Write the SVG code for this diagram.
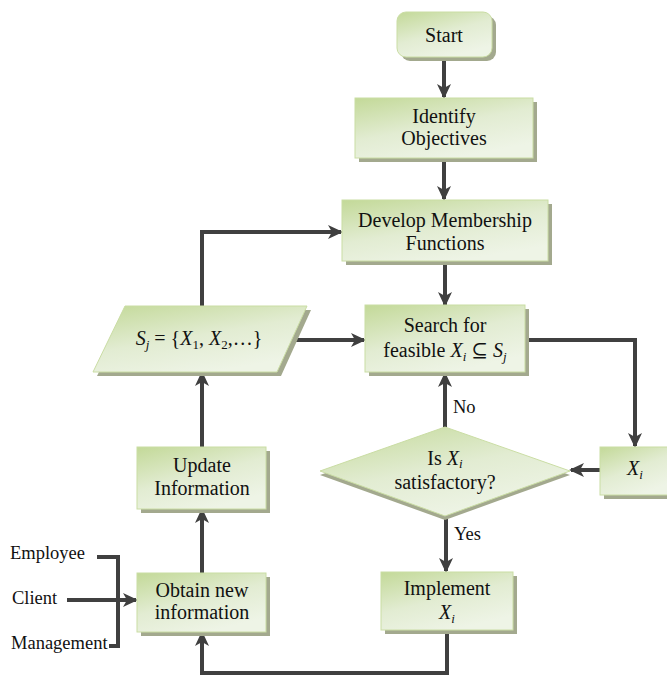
<svg xmlns="http://www.w3.org/2000/svg" width="667" height="679" viewBox="0 0 667 679">
<defs>
<linearGradient id="g" x1="0" y1="0" x2="0.55" y2="1">
<stop offset="0" stop-color="#c3d998"/>
<stop offset="0.55" stop-color="#e2ecd2"/>
<stop offset="1" stop-color="#eef4e6"/>
</linearGradient>
<marker id="ah" markerUnits="userSpaceOnUse" markerWidth="16" markerHeight="16" refX="13" refY="8" orient="auto">
<path d="M0,1 L15,8 L0,15 L4,8 z" fill="#3f3f3f"/>
</marker>
<style>
.sh{fill:#a3a98e}
.bx{fill:url(#g);stroke:#cadda4;stroke-width:1}
text{font-family:'Liberation Serif','DejaVu Serif',serif;fill:#111}
.t{font-size:20px;text-anchor:middle}
.l{font-size:18.5px}
.i{font-style:italic}
.s{font-size:13px}
.c{fill:none;stroke:#404040;stroke-width:4}
</style>
</defs>
<rect width="667" height="679" fill="#fff"/>
<g id="connectors">
<path class="c" d="M444,57 L444,97" marker-end="url(#ah)"/>
<path class="c" d="M444,158 L444,199" marker-end="url(#ah)"/>
<path class="c" d="M445,261 L445,305" marker-end="url(#ah)"/>
<path class="c" d="M202,306 L202,232 L341,232" marker-end="url(#ah)"/>
<path class="c" d="M292,340 L364,340" marker-end="url(#ah)"/>
<path class="c" d="M525,340 L635,340 L635,446" marker-end="url(#ah)"/>
<path class="c" d="M600,470 L571,470" marker-end="url(#ah)"/>
<path class="c" d="M445,427 L445,374" marker-end="url(#ah)"/>
<path class="c" d="M446,517 L446,571" marker-end="url(#ah)"/>
<path class="c" d="M447,631 L447,673 L202,673 L202,633" marker-end="url(#ah)"/>
<path class="c" d="M202,573 L202,510" marker-end="url(#ah)"/>
<path class="c" d="M202,447 L202,373" marker-end="url(#ah)"/>
<path class="c" d="M67,600 L136,600" marker-end="url(#ah)"/>
<path class="c" d="M97,557 L118,557 L118,646 L109,646"/>
<text class="l" x="453" y="413" font-family="Liberation Serif, DejaVu Serif, serif">No</text>
<text class="l" x="454" y="540" font-family="Liberation Serif, DejaVu Serif, serif">Yes</text>
</g>
<g id="start">
<rect class="sh" x="401" y="16" width="95" height="45" rx="9"/>
<rect class="bx" x="397" y="12" width="95" height="45" rx="9"/>
<text class="t" x="444" y="42" font-family="Liberation Serif, DejaVu Serif, serif">Start</text>
</g>
<g id="identify">
<rect class="sh" x="359" y="102" width="178" height="60"/>
<rect class="bx" x="355" y="98" width="178" height="60"/>
<text class="t" x="444" y="123" font-family="Liberation Serif, DejaVu Serif, serif">Identify</text>
<text class="t" x="444" y="145" font-family="Liberation Serif, DejaVu Serif, serif">Objectives</text>
</g>
<g id="develop">
<rect class="sh" x="346" y="204" width="206" height="61"/>
<rect class="bx" x="342" y="200" width="206" height="61"/>
<text class="t" x="445" y="227" font-family="Liberation Serif, DejaVu Serif, serif">Develop Membership</text>
<text class="t" x="445" y="250" font-family="Liberation Serif, DejaVu Serif, serif">Functions</text>
</g>
<g id="sset">
<polygon class="sh" points="129,310 311,310 281,376 97,376"/>
<polygon class="bx" points="125,306 307,306 277,372 93,372"/>
<text class="t" x="199" y="345" font-family="Liberation Serif, DejaVu Serif, serif"><tspan class="i">S</tspan><tspan class="i s" dy="4">j</tspan><tspan dy="-4"> = {</tspan><tspan class="i">X</tspan><tspan class="s" dy="4">1</tspan><tspan dy="-4">, </tspan><tspan class="i">X</tspan><tspan class="s" dy="4">2</tspan><tspan dy="-4">,…}</tspan></text>
</g>
<g id="search">
<rect class="sh" x="369" y="309" width="160" height="67"/>
<rect class="bx" x="365" y="305" width="160" height="67"/>
<text class="t" x="445" y="332" font-family="Liberation Serif, DejaVu Serif, serif">Search for</text>
<text class="t" x="445" y="357" font-family="Liberation Serif, DejaVu Serif, serif">feasible <tspan class="i">X</tspan><tspan class="i s" dy="4">i</tspan><tspan dy="-4"> ⊆ </tspan><tspan class="i">S</tspan><tspan class="i s" dy="4">j</tspan></text>
</g>
<g id="xi">
<rect class="sh" x="604" y="451" width="70" height="48"/>
<rect class="bx" x="600" y="447" width="70" height="48"/>
<text class="t" x="635" y="475" font-family="Liberation Serif, DejaVu Serif, serif"><tspan class="i">X</tspan><tspan class="i s" dy="4">i</tspan></text>
</g>
<g id="decision">
<polygon class="sh" points="445,431 570,475 445,520 320,475"/>
<polygon class="bx" points="445,427 570,471 445,516 320,471"/>
<text class="t" x="445" y="465" font-family="Liberation Serif, DejaVu Serif, serif">Is <tspan class="i">X</tspan><tspan class="i s" dy="3">i</tspan></text>
<text class="t" x="445" y="489" font-family="Liberation Serif, DejaVu Serif, serif">satisfactory?</text>
</g>
<g id="implement">
<rect class="sh" x="385" y="576" width="132" height="58"/>
<rect class="bx" x="381" y="572" width="132" height="58"/>
<text class="t" x="447" y="595" font-family="Liberation Serif, DejaVu Serif, serif">Implement</text>
<text class="t" x="447" y="619" font-family="Liberation Serif, DejaVu Serif, serif"><tspan class="i">X</tspan><tspan class="i s" dy="4">i</tspan></text>
</g>
<g id="update">
<rect class="sh" x="141" y="451" width="129" height="62"/>
<rect class="bx" x="137" y="447" width="129" height="62"/>
<text class="t" x="202" y="472" font-family="Liberation Serif, DejaVu Serif, serif">Update</text>
<text class="t" x="202" y="495" font-family="Liberation Serif, DejaVu Serif, serif">Information</text>
</g>
<g id="obtain">
<rect class="sh" x="141" y="577" width="129" height="59"/>
<rect class="bx" x="137" y="573" width="129" height="59"/>
<text class="t" x="202" y="597" font-family="Liberation Serif, DejaVu Serif, serif">Obtain new</text>
<text class="t" x="202" y="619" font-family="Liberation Serif, DejaVu Serif, serif">information</text>
</g>
<g id="sources">
<text class="l" x="10" y="559" font-family="Liberation Serif, DejaVu Serif, serif">Employee</text>
<text class="l" x="12" y="604" font-family="Liberation Serif, DejaVu Serif, serif">Client</text>
<text class="l" x="11" y="649" font-family="Liberation Serif, DejaVu Serif, serif">Management</text>
</g>
</svg>
